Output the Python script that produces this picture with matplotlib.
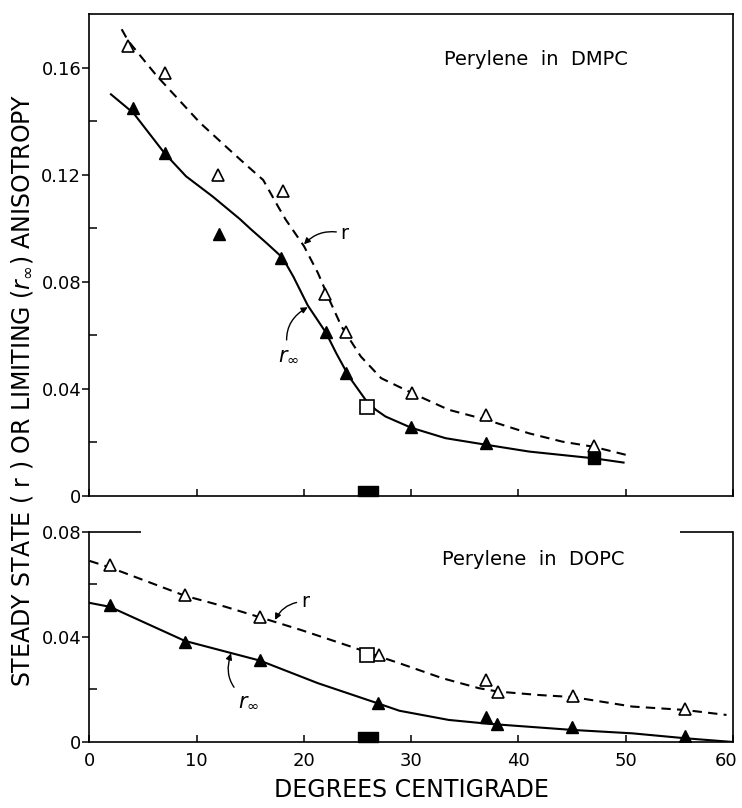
import matplotlib.pyplot as plt
from matplotlib.path import Path
from matplotlib.transforms import ScaledTranslation

plt.rcParams['font.family'] = ['DejaVu Sans']
plt.rcParams['mathtext.fontset'] = 'dejavusans'

# ---- Perylene in DMPC ----
dmpc_r_x = [3.6, 7.0, 12.0, 18.0, 22.0, 23.9, 30.1, 37.0, 47.0]
dmpc_r_y = [0.168, 0.158, 0.120, 0.114, 0.0755, 0.0614, 0.0385, 0.0303, 0.0185]
dmpc_rinf_x = [4.1, 7.0, 12.1, 17.9, 22.1, 23.9, 30.0, 37.0]
dmpc_rinf_y = [0.145, 0.128, 0.098, 0.089, 0.0613, 0.0459, 0.0258, 0.0198]
dmpc_rinf_sq = ([47.0], [0.0142])
dmpc_open_sq = ([25.9], [0.0334])
dmpc_base_sq = ([26.0], [0.0])

dmpc_fit_r_x = [3.0, 3.6, 6.25, 10.3, 13.4, 14.9, 16.2, 17.6, 18.3, 20.0, 21.3,
                22.4, 23.5, 25.3, 27.2, 30.1, 33.5, 36.9, 41.0, 44.1, 47.0, 50.1]
dmpc_fit_r_y = [0.1743, 0.170, 0.157, 0.1394, 0.128, 0.1226, 0.118, 0.108, 0.1032,
                0.0933, 0.0833, 0.073, 0.0633, 0.0521, 0.0440, 0.0384, 0.0322,
                0.0286, 0.0234, 0.0203, 0.0184, 0.0153]
dmpc_fit_rinf_x = [2.0, 4.1, 7.0, 9.0, 11.5, 14.0, 15.0, 16.5, 18.0, 19.0, 20.35,
                   22.05, 23.0, 24.2, 25.8, 26.7, 27.6, 30.0, 33.2, 36.9, 41.0,
                   47.0, 49.8]
dmpc_fit_rinf_y = [0.150, 0.143, 0.128, 0.1194, 0.1118, 0.1035, 0.0998, 0.0945,
                   0.089, 0.082, 0.0712, 0.061, 0.0534, 0.0446, 0.0356, 0.0322,
                   0.0297, 0.0255, 0.0216, 0.0192, 0.0166, 0.0141, 0.0125]

# ---- Perylene in DOPC ----
dopc_r_x = [1.9, 8.9, 15.9, 27.0, 37.0, 38.1, 45.1, 55.5]
dopc_r_y = [0.0674, 0.056, 0.0477, 0.0331, 0.0236, 0.0192, 0.0175, 0.0125]
dopc_rinf_x = [1.9, 8.9, 15.9, 26.9, 37.0, 38.0, 44.95, 55.5]
dopc_rinf_y = [0.0522, 0.0382, 0.0312, 0.0147, 0.0096, 0.0069, 0.0056, 0.0023]
dopc_open_sq = ([25.9], [0.0331])
dopc_base_sq = ([26.0], [0.0])

dopc_fit_r_x = [0.0, 1.9, 5.8, 8.9, 12.6, 15.9, 19.7, 24.4, 27.5, 28.9, 32.9,
                36.3, 38.1, 41.9, 45.1, 50.6, 55.5, 59.4]
dopc_fit_r_y = [0.069, 0.0665, 0.0605, 0.0557, 0.0516, 0.0475, 0.0427, 0.0363,
                0.0319, 0.030, 0.0243, 0.0205, 0.0192, 0.0179, 0.0171, 0.0135,
                0.0122, 0.0103]
dopc_fit_rinf_x = [0.0, 1.9, 8.9, 15.9, 21.3, 26.9, 28.9, 33.5, 37.3, 45.0, 50.6,
                   55.6, 60.0]
dopc_fit_rinf_y = [0.053, 0.0515, 0.0385, 0.031, 0.0224, 0.0147, 0.0119, 0.0084,
                   0.0069, 0.0046, 0.0033, 0.0014, 0.0]

x_ticks = [0, 10, 20, 30, 40, 50, 60]

# wide flat block sitting on the axis
base_marker = Path([(-1, 0), (1, 0), (1, 1), (-1, 1), (-1, 0)])

fig = plt.figure(figsize=(7.42, 8.08), dpi=100)
ax1 = fig.add_axes([0.1206, 0.3861, 0.8672, 0.5966])
ax2 = fig.add_axes([0.1206, 0.0817, 0.8672, 0.2599])

lw_fit = 1.5
dash = (4.5, 3)
ms_tri = 9


def draw_panel(ax, rx, ry, ix, iy, frx, fry, fix, fiy, osq, bsq):
    ax.plot(frx, fry, color='k', lw=lw_fit, dashes=dash)
    ax.plot(fix, fiy, color='k', lw=lw_fit)
    ax.plot(rx, ry, ls='none', marker='^', ms=ms_tri, mfc='white', mec='k', mew=1.2)
    ax.plot(ix, iy, ls='none', marker='^', ms=ms_tri, mfc='k', mec='k')
    ax.plot(*osq, ls='none', marker='s', ms=9.5, mfc='white', mec='k', mew=1.2)
    ax.plot(*bsq, ls='none', marker=base_marker, ms=15, mfc='k', mec='k', clip_on=False)
    ax.set_xlim(0, 60)
    ax.set_xticks(x_ticks)
    ax.tick_params(axis='x', direction='in', length=5, width=1.1, labelsize=13, pad=7)
    ax.tick_params(axis='y', which='major', direction='out', length=5, width=1.1,
                   labelsize=13, pad=1)
    ax.tick_params(axis='y', which='minor', direction='in', length=6, width=1.1)
    for s in ax.spines.values():
        s.set_linewidth(1.2)


draw_panel(ax1, dmpc_r_x, dmpc_r_y, dmpc_rinf_x, dmpc_rinf_y,
           dmpc_fit_r_x, dmpc_fit_r_y, dmpc_fit_rinf_x, dmpc_fit_rinf_y,
           dmpc_open_sq, dmpc_base_sq)
ax1.plot(*dmpc_rinf_sq, ls='none', marker='s', ms=8, mfc='k', mec='k')
draw_panel(ax2, dopc_r_x, dopc_r_y, dopc_rinf_x, dopc_rinf_y,
           dopc_fit_r_x, dopc_fit_r_y, dopc_fit_rinf_x, dopc_fit_rinf_y,
           dopc_open_sq, dopc_base_sq)

# top panel
ax1.set_ylim(0, 0.18)
ax1.set_yticks([0, 0.04, 0.08, 0.12, 0.16])
ax1.set_yticklabels(['0', '0.04', '0.08', '0.12', '0.16'])
ax1.set_yticks([0.02, 0.06, 0.10, 0.14], minor=True)
ax1.tick_params(axis='x', labelbottom=False)
ax1.text(0.694, 0.905, 'Perylene  in  DMPC', transform=ax1.transAxes,
         ha='center', va='center', fontsize=14)

# bottom panel: top frame only at the two ends
ax2.set_ylim(0, 0.08)
ax2.set_yticks([0, 0.04, 0.08])
ax2.set_yticklabels(['0', '0.04', '0.08'])
ax2.set_yticks([0.02, 0.06], minor=True)
ax2.spines['top'].set_visible(False)
ax2.hlines(0.08, 0, 4.8, color='k', lw=1.2, clip_on=False)
ax2.hlines(0.08, 55.1, 60, color='k', lw=1.2, clip_on=False)
ax2.text(0.689, 0.867, 'Perylene  in  DOPC', transform=ax2.transAxes,
         ha='center', va='center', fontsize=14)
ax2.set_xlabel('DEGREES CENTIGRADE', fontsize=17, labelpad=6)

# keep the last tick label inside the figure
last = ax2.get_xticklabels()[-1]
last.set_transform(last.get_transform() + ScaledTranslation(-5 / 72, 0, fig.dpi_scale_trans))

arrow = dict(arrowstyle='-|>', color='k', lw=1.0, mutation_scale=9,
             shrinkA=1, shrinkB=0)
ax1.annotate('r', xy=(20.0, 0.094), xytext=(23.4, 0.098), fontsize=14,
             ha='left', va='center',
             arrowprops=dict(arrow, connectionstyle='arc3,rad=0.3'))
ax1.annotate(r'$r_\infty$', xy=(20.35, 0.0705), xytext=(18.6, 0.053), fontsize=15,
             ha='center', va='center',
             arrowprops=dict(arrow, connectionstyle='arc3,rad=-0.4'))
ax2.annotate('r', xy=(17.3, 0.0465), xytext=(19.7, 0.0535), fontsize=14,
             ha='left', va='center',
             arrowprops=dict(arrow, connectionstyle='arc3,rad=0.3'))
ax2.annotate(r'$r_\infty$', xy=(13.2, 0.0338), xytext=(14.8, 0.016), fontsize=15,
             ha='center', va='center',
             arrowprops=dict(arrow, connectionstyle='arc3,rad=-0.4'))

fig.text(0.030, 0.517, r'STEADY STATE ( r ) OR LIMITING ($r_\infty$) ANISOTROPY',
         rotation=90, ha='center', va='center', fontsize=17)

fig.savefig('out.png', dpi=100)
